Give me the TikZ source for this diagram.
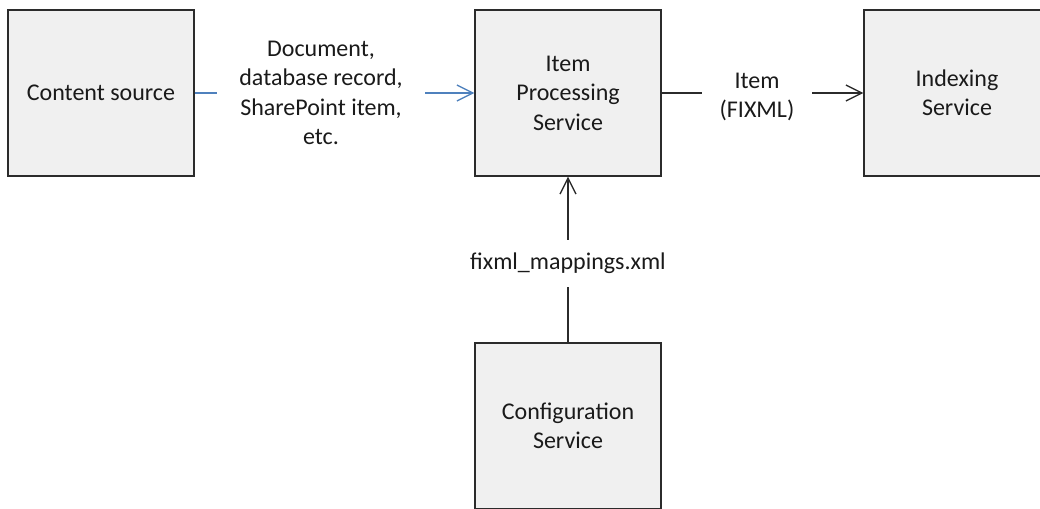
\documentclass[tikz,border=0pt]{standalone}
\usepackage{fontspec}
\setmainfont{Carlito}
\usetikzlibrary{arrows.meta}
\definecolor{boxfill}{HTML}{F0F0F0}
\definecolor{boxline}{HTML}{2B2B2B}
\definecolor{flowblue}{HTML}{4F81BD}
\definecolor{txt}{HTML}{1A1A1A}
\begin{document}
\begin{tikzpicture}[x=1pt,y=-1pt,
  font=\fontsize{24}{29.5}\selectfont,
  box/.style={draw=boxline,fill=boxfill,line width=1.3pt,minimum width=186pt,minimum height=166pt,inner sep=0pt,align=center,text=txt},
  lbl/.style={inner sep=0pt,align=center,text=txt},
  conn/.style={line width=1.3pt,draw=boxline},
  tip/.style={-{Straight Barb[length=16pt,width=16pt,line width=1.3pt]}}]
\useasboundingbox (0,0) rectangle (1040,508);
\clip (0,0) rectangle (1040,508);
\node[box] (cs) at (101,93) {Content source};
\node[box] (ips) at (568,93) {Item\\Processing\\Service};
\node[box] (idx) at (957,93) {Indexing\\Service};
\node[box] (cfg) at (568,426) {Configuration\\Service};
\node[lbl,minimum width=208pt] (doc) at (321,93) {Document,\\database record,\\SharePoint item,\\etc.};
\node[lbl,minimum width=110pt] (fix) at (757,97) {Item\\(FIXML)};
\node[lbl,minimum height=47pt] (map) at (568,263.5) {fixml\_mappings.xml};
\draw[conn,draw=flowblue] (cs.east) -- (cs.east -| doc.west);
\draw[conn,draw=flowblue,tip] (ips.west -| doc.east) -- (ips.west);
\draw[conn] (ips.east) -- (ips.east -| fix.west);
\draw[conn,tip] (idx.west -| fix.east) -- (idx.west);
\draw[conn] (cfg.north) -- (map.south);
\draw[conn,tip] (map.north) -- (ips.south);
\end{tikzpicture}
\end{document}
